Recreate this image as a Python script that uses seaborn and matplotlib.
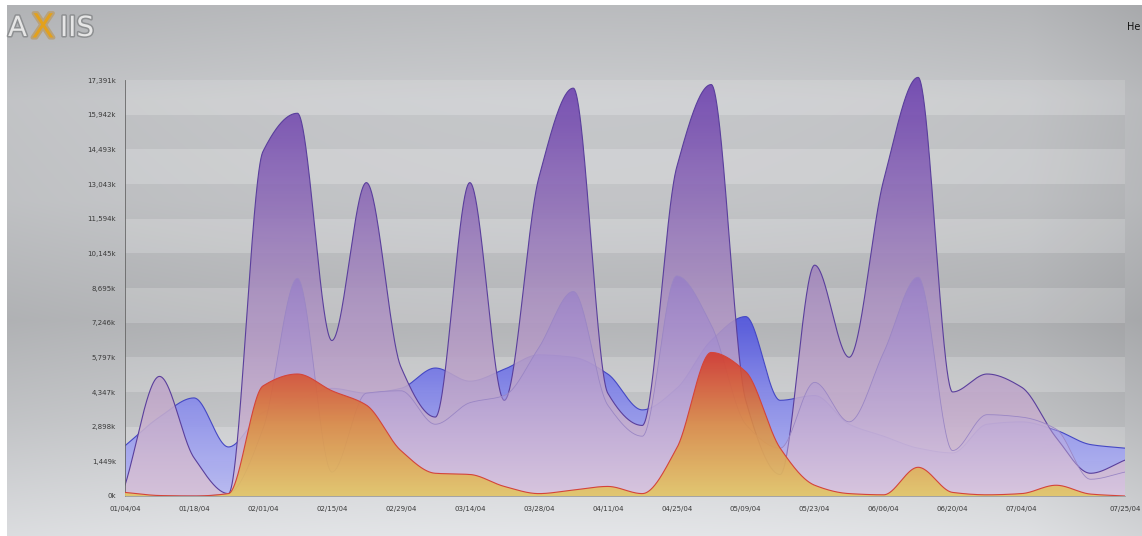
import numpy as np
import pandas as pd
import matplotlib
matplotlib.use("Agg")
import matplotlib.pyplot as plt
import seaborn as sns
from matplotlib.colors import LinearSegmentedColormap
from matplotlib.ticker import FixedLocator
from matplotlib import patheffects as pe

# ---- data (weekly values, in thousands) ----
weeks = pd.date_range("2004-01-04", "2004-07-25", freq="7D")

blue = [2100, 3300, 4100, 2050, 3500, 4000, 4500, 4300, 4500, 5350,
        4800, 5300, 5900, 5800, 5100, 3600, 4500, 6500, 7500, 4000,
        4200, 3000, 2500, 2000, 1800, 3000, 3100, 2750, 2150, 2000]
purple = [450, 5000, 1600, 100, 14400, 16000, 6500, 13100, 5400, 3300,
          13100, 4000, 13300, 17050, 4300, 2950, 13750, 17200, 4000, 900,
          9650, 5800, 13200, 17500, 4350, 5100, 4550, 2450, 950, 1500]
mauve = [0, 0, 0, 100, 2800, 9100, 1000, 4300, 4400, 3000,
         3900, 4200, 6200, 8550, 3800, 2500, 9200, 7150, 3000, 2000,
         4750, 3100, 6000, 9150, 1900, 3400, 3300, 2800, 700, 1000]
orange = [150, 20, 0, 100, 4600, 5100, 4400, 3800, 1900, 950,
          900, 400, 100, 250, 400, 100, 2000, 6000, 5200, 2000,
          450, 100, 50, 1200, 150, 50, 100, 450, 80, 0]

x_tick_labels = ["01/04/04", "01/18/04", "02/01/04", "02/15/04", "02/29/04",
                 "03/14/04", "03/28/04", "04/11/04", "04/25/04", "05/09/04",
                 "05/23/04", "06/06/04", "06/20/04", "07/04/04", "07/25/04"]
y_tick_values = [0, 1449, 2898, 4347, 5797, 7246, 8695, 10145, 11594,
                 13043, 14493, 15942, 17391]
y_tick_labels = ["0k", "1,449k", "2,898k", "4,347k", "5,797k", "7,246k",
                 "8,695k", "10,145k", "11,594k", "13,043k", "14,493k",
                 "15,942k", "17,391k"]

# ---- helpers ----
def pchip(x, y, xs):
    """Monotone cubic curve through the weekly points (for smooth outlines)."""
    x = np.asarray(x, float)
    y = np.asarray(y, float)
    h = np.diff(x)
    d = np.diff(y) / h
    m = np.zeros_like(y)
    for k in range(1, len(y) - 1):
        if d[k - 1] * d[k] > 0:
            w1 = 2 * h[k] + h[k - 1]
            w2 = h[k] + 2 * h[k - 1]
            m[k] = (w1 + w2) / (w1 / d[k - 1] + w2 / d[k])
    m[0] = d[0]
    m[-1] = d[-1]
    idx = np.clip(np.searchsorted(x, xs) - 1, 0, len(h) - 1)
    t = (xs - x[idx]) / h[idx]
    h00 = 2 * t**3 - 3 * t**2 + 1
    h10 = t**3 - 2 * t**2 + t
    h01 = -2 * t**3 + 3 * t**2
    h11 = t**3 - t**2
    return (h00 * y[idx] + h10 * h[idx] * m[idx]
            + h01 * y[idx + 1] + h11 * h[idx] * m[idx + 1])


def gradient_area(ax, xs, ys, colors, alpha, z, edge, lw):
    top = float(np.max(ys))
    poly = ax.fill_between(xs, 0, ys, facecolor="none", edgecolor="none", zorder=z)
    cmap = LinearSegmentedColormap.from_list("grad", colors)
    grad = np.linspace(0, 1, 256).reshape(-1, 1)
    im = ax.imshow(grad, extent=[xs[0], xs[-1], 0, top], origin="lower",
                   aspect="auto", cmap=cmap, alpha=alpha, zorder=z,
                   interpolation="bicubic")
    im.set_clip_path(poly.get_paths()[0], transform=ax.transData)
    sns.lineplot(x=xs, y=ys, ax=ax, color=edge, linewidth=lw, zorder=z + 0.1,
                 estimator=None, sort=False, legend=False)


# ---- figure ----
sns.set_style("white")
plt.rcParams["font.family"] = ["DejaVu Sans"]

W, H = 1142, 536
fig = plt.figure(figsize=(W / 100, H / 100), dpi=100)

# soft grey backdrop
bg = fig.add_axes([0, 0, 1, 1], zorder=-5)
py = np.arange(H)[:, None]
px = np.linspace(0, 1, W)[None, :]
v = np.interp(py, [0, 100, 200, 320, 420, 536], [0.69, 0.76, 0.75, 0.69, 0.76, 0.86])
v = v + 0.035 * (1 - ((px - 0.5) / 0.5) ** 2) - 0.035 * np.clip((px - 0.9) / 0.1, 0, 1)
img = np.dstack([v, v + 0.006, v + 0.016])
img = np.clip(img, 0, 1)
img[:5, :, :] = 1.0
img[:, :7, :] = 1.0
bg.imshow(img, aspect="auto", extent=[0, 1, 0, 1], origin="upper")
bg.set_axis_off()

# plot area
x0_px, x1_px, y0_px = 125, 1125, 496
px_per_k = (496 - 80) / 17391
ytop = 17650
ax_h = ytop * px_per_k
ax = fig.add_axes([x0_px / W, 1 - y0_px / H, (x1_px - x0_px) / W, ax_h / H])
ax.set_facecolor("none")

days = np.asarray((weeks - weeks[0]).days, float)
xs = np.linspace(days[0], days[-1], 2400)

# alternating horizontal bands
step = 17391 / 12
for k in range(12):
    if k % 2 == 1:
        ax.axhspan(k * step, (k + 1) * step, color="white", alpha=0.13, lw=0, zorder=0)
    else:
        ax.axhspan(k * step, (k + 1) * step, color="black", alpha=0.025, lw=0, zorder=0)

gradient_area(ax, xs, np.maximum(pchip(days, blue, xs), 0),
              ["#b7b9f3", "#8c8fec", "#4f53de"], 0.92, 1, "#4548c4", 0.8)
gradient_area(ax, xs, np.maximum(pchip(days, purple, xs), 0),
              ["#d9c3d6", "#a78cbf", "#6a3dae"], 0.88, 2, "#5a3f9c", 0.8)
gradient_area(ax, xs, np.maximum(pchip(days, mauve, xs), 0),
              ["#dccbe6", "#b09ad8", "#8a6fd0"], 0.45, 3, "#9a86c4", 0.6)
gradient_area(ax, xs, np.maximum(pchip(days, orange, xs), 0),
              ["#e3c765", "#dc8d45", "#d5392c"], 0.9, 4, "#d4443a", 0.8)

ax.set_xlim(days[0], days[-1])
ax.set_ylim(0, ytop)

tick_days = [(pd.to_datetime(s, format="%m/%d/%y") - weeks[0]).days for s in x_tick_labels]
ax.set_xticks(tick_days)
ax.set_xticklabels(x_tick_labels, fontsize=5, color="#3a3a3a")
ax.set_yticks(y_tick_values)
ax.set_yticklabels(y_tick_labels, fontsize=5, color="#3a3a3a")
minor = [m * step / 9 for m in range(0, 12 * 9 + 1) if m % 9 != 0]
ax.yaxis.set_minor_locator(FixedLocator(minor))
ax.tick_params(axis="y", which="major", length=5, width=0.6, color="#555555", pad=1.5)
ax.tick_params(axis="y", which="minor", length=3, width=0.5, color="#666666")
ax.tick_params(axis="x", which="major", length=3, width=0.6, color="#777777", pad=4)
ax.tick_params(axis="x", which="minor", length=0)
for s in ("top", "right"):
    ax.spines[s].set_visible(False)
ax.spines["left"].set_color("#666666")
ax.spines["left"].set_linewidth(0.6)
ax.spines["left"].set_bounds(0, 17391)
ax.spines["bottom"].set_color("#9a9a9a")
ax.spines["bottom"].set_linewidth(0.6)
ax.set_xlabel("")
ax.set_ylabel("")

# logo
logo_fx = [pe.withStroke(linewidth=2.2, foreground="#8e9092")]
fig.text(8 / W, 1 - 28 / H, "A", fontsize=20, color="#e6e6e6", va="center",
         ha="left", path_effects=logo_fx)
fig.text(43 / W, 1 - 28 / H, "X", fontsize=24, color="#e3a11c", va="center",
         ha="center", path_effects=[pe.withStroke(linewidth=3, foreground="#b9a27a")])
fig.text(60 / W, 1 - 28 / H, "IIS", fontsize=20, color="#e6e6e6", va="center",
         ha="left", path_effects=logo_fx)
fig.text(1140 / W, 1 - 27 / H, "He", fontsize=7, color="#111111", va="center", ha="right")

fig.savefig("out.png", dpi=100)
